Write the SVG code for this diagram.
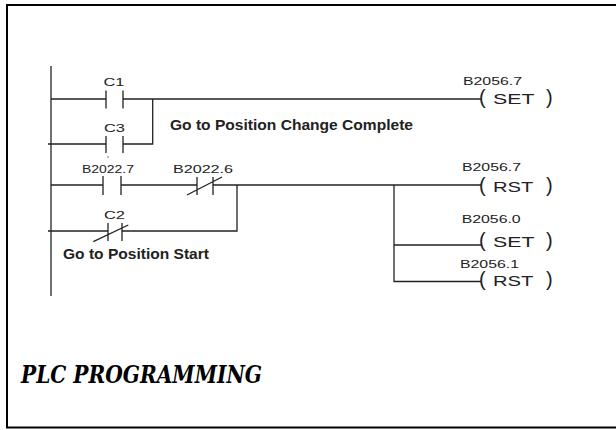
<svg xmlns="http://www.w3.org/2000/svg" width="616" height="430" viewBox="0 0 616 430">
<style>
.w{stroke:#222;stroke-width:1.3;fill:none}
.lbl{font-family:"Liberation Sans",Arial,sans-serif;font-size:11px;fill:#222}
.cm{font-family:"Liberation Sans",Arial,sans-serif;font-size:15px;font-weight:bold;fill:#222}
.coil{font-family:"Liberation Sans",Arial,sans-serif;font-size:14px;fill:#222}
.par{font-size:20px}
.title{font-family:"DejaVu Serif","Liberation Serif",serif;font-style:italic;font-weight:bold;font-size:24.5px;fill:#000}
</style>
<rect x="7" y="5" width="615" height="422.5" fill="#fff" stroke="#000" stroke-width="2"/>
<g id="connectors">
<path class="w" d="M51 66V296"/>
<path class="w" d="M51 99H106M123 99H481"/>
<path class="w" d="M48 144H106M123 144H152.7V99"/>
<path class="w" d="M51 185H103M121 185H197M213 185H481"/>
<path class="w" d="M48 231H108M122 231H237V185"/>
<path class="w" d="M394 185V281.5H481M394 245H481"/>
</g>
<g id="C1">
<path class="w" d="M106 90.5V108.5M123 90.5V108.5"/>
<text class="lbl" x="103.5" y="86" textLength="21" lengthAdjust="spacingAndGlyphs">C1</text>
</g>
<g id="C3">
<path class="w" d="M106 136V153M123 136V153"/>
<text class="lbl" x="104" y="132" textLength="21" lengthAdjust="spacingAndGlyphs">C3</text>
<circle cx="108" cy="157" r="0.7" fill="#444"/>
</g>
<g id="note1">
<text class="cm" x="170" y="130" textLength="243" lengthAdjust="spacingAndGlyphs">Go to Position Change Complete</text>
</g>
<g id="B2022_7">
<path class="w" d="M103 176V195M121 176V195"/>
<text class="lbl" x="82" y="172.7" textLength="52" lengthAdjust="spacingAndGlyphs">B2022.7</text>
</g>
<g id="B2022_6">
<path class="w" d="M197 177V195M213 177V195M187 195L222 177"/>
<text class="lbl" x="173" y="172.7" textLength="60" lengthAdjust="spacingAndGlyphs">B2022.6</text>
</g>
<g id="C2">
<path class="w" d="M108 223V241M122 223V241M93.3 241.7L128.3 225"/>
<text class="lbl" x="104" y="219" textLength="21" lengthAdjust="spacingAndGlyphs">C2</text>
</g>
<g id="note2">
<text class="cm" x="63" y="259" textLength="146" lengthAdjust="spacingAndGlyphs">Go to Position Start</text>
</g>
<g id="coil1">
<text class="lbl" x="463" y="84.5" textLength="59" lengthAdjust="spacingAndGlyphs">B2056.7</text>
<text class="coil" y="104"><tspan class="par" x="479">(</tspan> <tspan x="493" textLength="41" lengthAdjust="spacingAndGlyphs">SET</tspan> <tspan class="par" x="546">)</tspan></text>
</g>
<g id="coil2">
<text class="lbl" x="462" y="171" textLength="59" lengthAdjust="spacingAndGlyphs">B2056.7</text>
<text class="coil" y="192"><tspan class="par" x="479">(</tspan> <tspan x="493" textLength="40" lengthAdjust="spacingAndGlyphs">RST</tspan> <tspan class="par" x="546">)</tspan></text>
</g>
<g id="coil3">
<text class="lbl" x="461.7" y="222.5" textLength="59" lengthAdjust="spacingAndGlyphs">B2056.0</text>
<text class="coil" y="247"><tspan class="par" x="479">(</tspan> <tspan x="493" textLength="41" lengthAdjust="spacingAndGlyphs">SET</tspan> <tspan class="par" x="546">)</tspan></text>
</g>
<g id="coil4">
<text class="lbl" x="460" y="267.5" textLength="59" lengthAdjust="spacingAndGlyphs">B2056.1</text>
<text class="coil" y="285.5"><tspan class="par" x="479">(</tspan> <tspan x="493" textLength="40" lengthAdjust="spacingAndGlyphs">RST</tspan> <tspan class="par" x="546">)</tspan></text>
</g>
<g id="title">
<text class="title" x="21" y="383.3" textLength="241" lengthAdjust="spacingAndGlyphs">PLC PROGRAMMING</text>
</g>
</svg>
